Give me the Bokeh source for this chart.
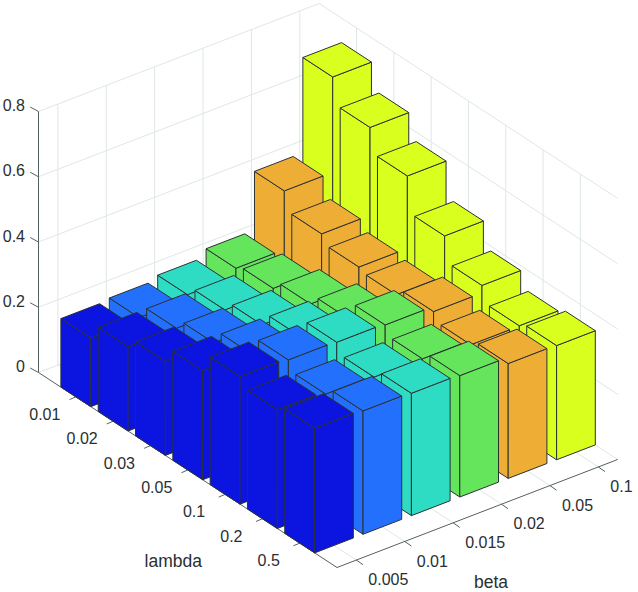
from bokeh.plotting import figure
from bokeh.embed import file_html
from bokeh.resources import INLINE
from bokeh.core.properties import value

lambda_labels = ["0.01", "0.02", "0.03", "0.05", "0.1", "0.2", "0.5"]
beta_labels = ["0.005", "0.01", "0.015", "0.02", "0.05", "0.1"]
z_ticks = [0, 0.2, 0.4, 0.6, 0.8]
z_labels = ["0", "0.2", "0.4", "0.6", "0.8"]

beta_005 = [0.210, 0.258, 0.288, 0.334, 0.391, 0.364, 0.382]
beta_01 = [0.216, 0.258, 0.288, 0.330, 0.385, 0.355, 0.378]
beta_015 = [0.229, 0.257, 0.286, 0.327, 0.382, 0.350, 0.375]
beta_02 = [0.253, 0.266, 0.293, 0.324, 0.378, 0.349, 0.372]
beta_05 = [0.433, 0.376, 0.349, 0.339, 0.362, 0.335, 0.352]
beta_1 = [0.725, 0.645, 0.571, 0.462, 0.385, 0.336, 0.350]
series = [beta_005, beta_01, beta_015, beta_02, beta_05, beta_1]
colors = ["#0c14e0", "#2270fb", "#2edcc3", "#64e55c", "#eead34", "#d8ff1e"]

# orthographic view of the MATLAB-style axes box, in page pixels
LEFT = (38.5, 372.0)
FRONT = (337.0, 567.0)
RIGHT = (617.7, 459.0)
Z_SCALE = 326.25
L_MIN, L_MAX = 0.0, 8.0
B_MIN, B_MAX = 0.6, 6.4
Z_MAX = 0.8
HALF = 0.4


def proj(l, b, z=0.0):
    tl = (l - L_MIN) / (L_MAX - L_MIN)
    tb = (b - B_MIN) / (B_MAX - B_MIN)
    x = LEFT[0] + tl * (FRONT[0] - LEFT[0]) + tb * (RIGHT[0] - FRONT[0])
    y = LEFT[1] + tl * (FRONT[1] - LEFT[1]) + tb * (RIGHT[1] - FRONT[1]) - Z_SCALE * z
    return x, y


def seg(a, b):
    return [a[0], b[0]], [a[1], b[1]]


p = figure(width=638, height=592, x_range=(0.5, 638.5), y_range=(592, 0),
           x_axis_location=None, y_axis_location=None, toolbar_location=None,
           output_backend="svg", min_border=0, outline_line_color=None)
p.grid.visible = False

n_l, n_b = len(lambda_labels), len(beta_labels)

# grid lines
gx, gy = [], []
for z in z_ticks:
    for a, b in [(proj(L_MIN, B_MIN, z), proj(L_MIN, B_MAX, z)),
                 (proj(L_MIN, B_MAX, z), proj(L_MAX, B_MAX, z))]:
        sx, sy = seg(a, b)
        gx.append(sx)
        gy.append(sy)
for j in range(1, n_b + 1):
    for a, b in [(proj(L_MIN, j, 0), proj(L_MIN, j, Z_MAX)),
                 (proj(L_MIN, j, 0), proj(L_MAX, j, 0))]:
        sx, sy = seg(a, b)
        gx.append(sx)
        gy.append(sy)
for i in range(1, n_l + 1):
    for a, b in [(proj(i, B_MAX, 0), proj(i, B_MAX, Z_MAX)),
                 (proj(i, B_MIN, 0), proj(i, B_MAX, 0))]:
        sx, sy = seg(a, b)
        gx.append(sx)
        gy.append(sy)
p.multi_line(gx, gy, line_color="#dfe6e6", line_width=1)

# axis lines and ticks
ax_color = "#566063"
ax, ay = [], []
for a, b in [(proj(L_MIN, B_MIN, 0), proj(L_MIN, B_MIN, Z_MAX)),
             (proj(L_MIN, B_MIN, 0), proj(L_MAX, B_MIN, 0)),
             (proj(L_MAX, B_MIN, 0), proj(L_MAX, B_MAX, 0))]:
    sx, sy = seg(a, b)
    ax.append(sx)
    ay.append(sy)
for z in z_ticks:
    x, y = proj(L_MIN, B_MIN, z)
    ax.append([x, x - 8.3])
    ay.append([y, y - 4.5])
for i in range(1, n_l + 1):
    x, y = proj(i, B_MIN, 0)
    ax.append([x, x - 6.3])
    ay.append([y, y + 2.7])
for j in range(1, n_b + 1):
    x, y = proj(L_MAX, j, 0)
    ax.append([x, x + 6.6])
    ay.append([y, y + 4.6])
p.multi_line(ax, ay, line_color=ax_color, line_width=1)

# bars: back to front
px, py, pc = [], [], []
for i in range(n_l):
    l = i + 1
    for j in reversed(range(n_b)):
        b = j + 1
        h = series[j][i]
        fl, fr = l + HALF, b - HALF
        lt, rt = proj(l - HALF, b - HALF, h), proj(l + HALF, b + HALF, h)
        ft, bt = proj(fl, fr, h), proj(l - HALF, b + HALF, h)
        lb, rb, fb = proj(l - HALF, b - HALF, 0), proj(l + HALF, b + HALF, 0), proj(fl, fr, 0)
        for face in [(lt, ft, fb, lb), (ft, rt, rb, fb), (lt, bt, rt, ft)]:
            px.append([v[0] for v in face])
            py.append([v[1] for v in face])
            pc.append(colors[j])
p.patches(px, py, fill_color=pc, line_color="#2b3133", line_width=1, line_join="round")

# labels
FONT = value("Liberation Sans")
TXT = "#2a2f31"
zx, zy = [], []
for z in z_ticks:
    x, y = proj(L_MIN, B_MIN, z)
    zx.append(x - 13.5)
    zy.append(y - 6.5)
p.text(zx, zy, text=z_labels, text_font=FONT, text_font_size="16px", text_color=TXT,
       text_align="right", text_baseline="middle")
lx, ly = [], []
for i in range(1, n_l + 1):
    x, y = proj(i, B_MIN, 0)
    lx.append(x - 31)
    ly.append(y + 17)
p.text(lx, ly, text=lambda_labels, text_font=FONT, text_font_size="16px", text_color=TXT,
       text_align="center", text_baseline="middle")
bx, by = [], []
for j in range(1, n_b + 1):
    x, y = proj(L_MAX, j, 0)
    bx.append(x + 12)
    by.append(y + 19.2)
p.text(bx, by, text=beta_labels, text_font=FONT, text_font_size="16px", text_color=TXT,
       text_align="left", text_baseline="middle")
p.text([173.3], [560.3], text=["lambda"], text_font=FONT, text_font_size="17.5px", text_color=TXT,
       text_align="center", text_baseline="middle")
p.text([491], [581.3], text=["beta"], text_font=FONT, text_font_size="17.5px", text_color=TXT,
       text_align="center", text_baseline="middle")

open("out.html", "w").write(file_html(p, INLINE))
